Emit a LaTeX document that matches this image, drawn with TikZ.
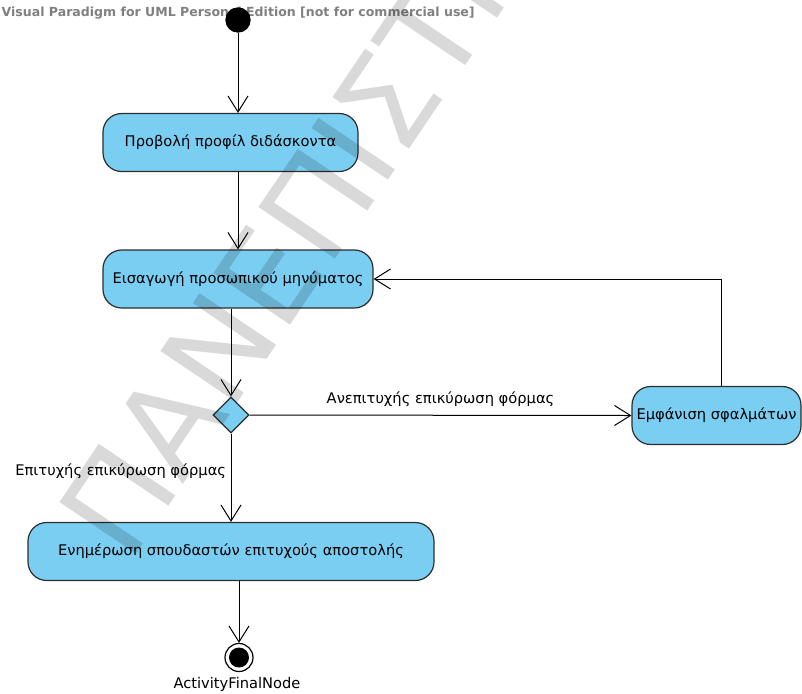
\documentclass[tikz,border=0pt]{standalone}
\usepackage{fontspec}
\setmainfont{DejaVu Sans}
\usetikzlibrary{shapes.geometric,arrows.meta}
\definecolor{actblue}{RGB}{122,206,242}
\definecolor{edge}{RGB}{45,45,45}

\begin{document}
\begin{tikzpicture}[%
      x=0.75pt, y=-0.75pt,
      action/.style={draw=edge, line width=0.9pt, fill=actblue, rounded corners=14pt,
        minimum height=43.5pt, inner sep=2pt, font=\fontsize{11}{13}\selectfont},
      decision/.style={diamond, draw=edge, line width=0.9pt, fill=actblue,
        minimum width=27pt, minimum height=27pt, inner sep=0pt},
      initial/.style={circle, fill=black, minimum size=19pt, inner sep=0pt},
      final/.style={circle, draw=black, line width=0.9pt, fill=white, minimum size=21pt, inner sep=0pt,
        path picture={\fill [black] (path picture bounding box.center) circle (7.5pt);}},
      flow/.style={color=black, line width=0.75pt, -{Straight Barb[length=12pt, width=15pt]}},
      guard/.style={font=\fontsize{11}{13}\selectfont},
      header/.style={text=black!50, font=\bfseries\fontsize{9.4}{11}\selectfont},
      watermark/.style={text=black, opacity=0.15, inner sep=0pt, font=\fontsize{95}{100}\selectfont},
      ]
      \useasboundingbox (0,0) rectangle (802,693);
      \clip (0,0) rectangle (802,693);

      \node [header, anchor=west] (title) at (-3,13) {Visual Paradigm for UML Personal Edition [not for commercial use]};

      \node [initial] (start) at (238,20) {};
      \node [action, minimum width=191.25pt] (profile) at (230.5,142.5) {Προβολή προφίλ διδάσκοντα};
      \node [action, minimum width=202.5pt] (message) at (238,279) {Εισαγωγή προσωπικού μηνύματος};
      \node [decision] (check) at (231,415) {};
      \node [action, minimum width=126.75pt] (errors) at (716.5,415.5) {Εμφάνιση σφαλμάτων};
      \node [action, minimum width=304.5pt] (notify) at (231,551.5) {Ενημέρωση σπουδαστών επιτυχούς αποστολής};
      \node [final] (end) at (239,657.5) {};
      \node [guard] (endlabel) at (237,684) {ActivityFinalNode};

      \draw [flow] (start) -- (start |- profile.north);
      \draw [flow] (start |- profile.south) -- (message.north);
      \draw [flow] (check |- message.south) -- (check.north);
      \draw [flow] (check.east) -- node [guard, above=3pt] {Ανεπιτυχής επικύρωση φόρμας} (errors.west);
      \draw [flow] ([xshift=4pt]errors.north) -- ([xshift=4pt]errors.north |- message.east) -- (message.east);
      \draw [flow] (check.south) -- node [guard, pos=0.43, left] {Επιτυχής επικύρωση φόρμας} (check |- notify.north);
      \draw [flow] (end |- notify.south) -- (end.north);

      \node [watermark, rotate=56, anchor=base west] (stamp) at (129,565) {ΠΑΝΕΠΙΣΤΗΜΙΟ};
      \end{tikzpicture}
\end{document}
